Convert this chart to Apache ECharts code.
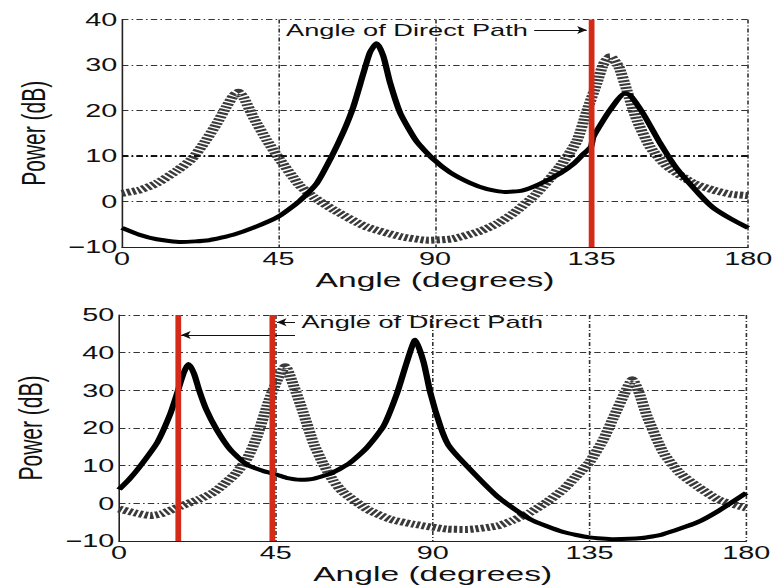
<!DOCTYPE html>
<html>
<head>
<meta charset="utf-8">
<script src="https://cdn.jsdelivr.net/npm/echarts@6/dist/echarts.min.js"></script>
<style>
  html, body { margin: 0; padding: 0; background: #fff; overflow: hidden; }
  /* the reference figure is stretched sideways, so the chart is drawn narrow and widened */
  #main { width: 486.875px; height: 585px; transform: scaleX(1.6); transform-origin: 0 0; }
</style>
</head>
<body>
<div id="main"></div>
<script>
// ---- data ----
var xTicks = [0, 45, 90, 135, 180];

// upper panel
var topSolidAngle = [0, 5, 10, 17, 25, 32, 38, 45, 51, 56, 60, 63.6, 66.5, 69.4, 71.3, 73.2, 75.1, 77.1, 80, 84.7, 89.5, 94.3, 100, 105, 110, 115, 120, 126, 130, 132.6, 134.8, 135.5, 140.3, 144.6, 146, 149.9, 154.7, 159.5, 166.2, 170, 175, 180];
var topSolidPower = [-5.8, -7.3, -8.3, -8.9, -8.5, -7.3, -5.7, -3.3, 0.1, 4, 9.5, 15.2, 20.8, 28.2, 32.8, 34.8, 32, 26, 19.4, 13.2, 9.3, 6.4, 4.1, 2.7, 2.1, 2.4, 3.8, 6.2, 8.4, 10.4, 12, 14.2, 20.1, 23.8, 23.4, 19.2, 12.8, 7.2, 1.4, -1.4, -3.8, -5.8];
var topDashAngle = [0, 5, 10, 16, 20, 23, 27, 30, 32, 33.5, 35, 37.7, 41.6, 45.4, 51, 55, 61, 70, 80, 88, 95, 103, 108, 112.5, 119, 126, 130.7, 133.6, 136.5, 138.4, 140.3, 142.7, 145.1, 148, 151.8, 156.6, 164.3, 170, 175, 180];
var topDashPower = [1.8, 2.5, 4, 6.9, 9.3, 12.2, 16.8, 20.8, 23.2, 24, 22.8, 18.6, 13.5, 9.2, 3.6, 1, -1.9, -5.5, -7.7, -8.5, -8.2, -6.5, -4.8, -2.6, 1.6, 7.8, 13.2, 19.8, 26, 30.2, 31.8, 29.8, 24.5, 17.9, 12, 7.8, 4, 2.5, 1.6, 1.3];
var topDirectPath = [135];

// lower panel
var botSolidAngle = [0, 3, 6, 11, 14.6, 16.6, 18.5, 19.9, 21.5, 23, 25, 28, 31.9, 36.7, 41.4, 45.3, 48, 52, 56, 61.4, 66.3, 71.1, 75.9, 79.7, 82.6, 85, 87.4, 89.3, 92.2, 94.5, 98.8, 108.5, 118, 127.5, 135, 142, 150, 156, 166, 172, 180];
var botSolidPower = [3.7, 6.5, 9.8, 16.2, 23.5, 29, 34.5, 37, 34.5, 30, 25, 19.6, 14.3, 10.3, 8.6, 7.6, 6.8, 6.3, 6.6, 8.2, 10.8, 14.8, 20.5, 29, 37.5, 43.4, 37.5, 29.5, 20.5, 15.5, 10.9, 1.9, -4.2, -7.6, -9, -9.5, -9.2, -8.2, -5, -2, 2.8];
var botDashAngle = [0, 5, 9, 12, 17.5, 23, 27.1, 30, 33.8, 37, 39.5, 42.9, 45.3, 47.7, 50, 52.9, 55.8, 58.6, 61.5, 64.3, 71.1, 77.8, 84.4, 94, 100, 108.5, 113, 118, 123, 127.5, 131, 135, 139, 142, 145, 147.3, 149, 151.6, 156.2, 161, 166, 172, 178.3, 180];
var botDashPower = [-1.5, -2.6, -3.2, -2.8, -0.8, 1.1, 2.9, 5, 8.2, 12.3, 17.5, 27, 32.5, 36.3, 31.5, 24, 16, 10.5, 6, 3, -1.5, -4.2, -5.5, -6.8, -6.9, -6, -4.5, -2.4, 0.5, 3.7, 7, 10.9, 17, 23, 29, 32.8, 30, 23, 13.5, 8, 4.5, 1, -0.8, -1.2];
var botDirectPath = [17, 44];

var annotation = 'Angle of Direct Path';

function pairs(xs, ys) {
    return xs.map(function (x, i) { return [x, ys[i]]; });
}

// vertical red line from bottom to top of the axis
function directLines(angles, lo, hi) {
    var out = [];
    angles.forEach(function (a) {
        out.push([a, lo], [a, hi], null);
    });
    return out;
}

var font = 'Liberation Sans';
var dashDot = [4, 2, 1, 2];

function makeX(gi) {
    return {
        type: 'value', gridIndex: gi, min: 0, max: 180, interval: 45,
        name: 'Angle (degrees)', nameLocation: 'middle', nameGap: 19,
        nameTextStyle: { fontFamily: font, fontSize: 21, color: '#111' },
        axisLine: { show: true, onZero: false, lineStyle: { color: '#222', width: 1 } },
        axisTick: { show: false },
        axisLabel: { fontFamily: font, fontSize: 18, color: '#111', margin: 3 },
        splitLine: { show: true, showMinLine: false, lineStyle: { color: '#333', width: 1, type: dashDot } }
    };
}

function makeY(gi, min, max) {
    return {
        type: 'value', gridIndex: gi, min: min, max: max, interval: 10,
        name: 'Power (dB)', nameLocation: 'middle', nameGap: 45,
        nameTextStyle: { fontFamily: font, fontSize: 21, color: '#111' },
        axisLine: { show: true, onZero: false, lineStyle: { color: '#222', width: 1 } },
        axisTick: { show: false },
        axisLabel: {
            fontFamily: font, fontSize: 18, color: '#111', margin: 3,
            formatter: function (v) { return v < 0 ? '\u2212' + Math.abs(v) : String(v); }
        },
        splitLine: { show: true, showMinLine: false, lineStyle: { color: '#333', width: 1, type: dashDot } }
    };
}

function dashSeries(gi, data, extra) {
    var s = {
        type: 'line', xAxisIndex: gi, yAxisIndex: gi, data: data,
        showSymbol: false, smooth: 0.2, z: 2, silent: true,
        lineStyle: { color: '#3a3a3a', width: 7, type: [2, 1.4], cap: 'butt' }
    };
    if (extra) s.markLine = extra;
    return s;
}

function solidSeries(gi, data) {
    return {
        type: 'line', xAxisIndex: gi, yAxisIndex: gi, data: data,
        showSymbol: false, smooth: 0.2, z: 3, silent: true,
        lineStyle: { color: '#000', width: 4, join: 'round' }
    };
}

function arrowLine(from, to, text) {
    var item = [
        { coord: from },
        { coord: to }
    ];
    if (text) {
        item[0].label = {
            show: true, position: 'start', formatter: text, distance: 4,
            fontFamily: font, fontSize: 17, color: '#111'
        };
    }
    return item;
}

function redSeries(gi, data, arrows) {
    return {
        type: 'line', xAxisIndex: gi, yAxisIndex: gi, data: data,
        showSymbol: false, connectNulls: false, z: 5, silent: true,
        lineStyle: { color: '#d42a18', width: 3.6 },
        markLine: {
            silent: true, symbol: ['none', 'arrow'], symbolSize: 6,
            lineStyle: { color: '#111', width: 1, type: 'solid' },
            label: { show: false },
            data: arrows
        }
    };
}

var option = {
    animation: false,
    backgroundColor: '#fff',
    grid: [
        { left: 76.25, right: 19.4, top: 19.5, height: 227.5 },
        { left: 74.4, right: 20.6, top: 315, height: 227 }
    ],
    xAxis: [makeX(0), makeX(1)],
    yAxis: [makeY(0, -10, 40), makeY(1, -10, 50)],
    series: [
        dashSeries(0, pairs(topDashAngle, topDashPower), {
            silent: true, symbol: 'none', label: { show: false },
            lineStyle: { color: '#111', width: 2, type: dashDot },
            data: [{ yAxis: 10 }]
        }),
        solidSeries(0, pairs(topSolidAngle, topSolidPower)),
        redSeries(0, directLines(topDirectPath, -10, 40), [
            arrowLine([118.5, 37.7], [133.6, 37.7], annotation)
        ]),
        dashSeries(1, pairs(botDashAngle, botDashPower)),
        solidSeries(1, pairs(botSolidAngle, botSolidPower)),
        redSeries(1, directLines(botDirectPath, -10, 50), [
            arrowLine([50.5, 48.1], [45.3, 48.1], annotation),
            arrowLine([50.5, 44.7], [17.8, 44.7])
        ])
    ]
};

var myChart = echarts.init(document.getElementById('main'), null, { renderer: 'svg' });
myChart.setOption(option);
</script>
</body>
</html>
